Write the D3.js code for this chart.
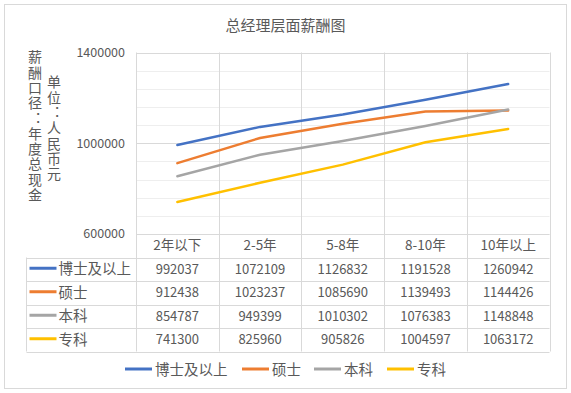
<!DOCTYPE html>
<html>
<head>
<meta charset="utf-8">
<script src="https://cdn.jsdelivr.net/npm/d3@7"></script>
<style>
  body { margin: 0; background: #fff; }
  text { font-family: "Noto Sans CJK SC", "DejaVu Sans", sans-serif; fill: #595959; }
</style>
</head>
<body>
<svg id="chart" width="571" height="393"></svg>
<script>
const title = '总经理层面薪酬图'
const categories = ['2年以下', '2-5年', '5-8年', '8-10年', '10年以上']
const seriesNames = ['博士及以上', '硕士', '本科', '专科']
const colours = ['#4472C4', '#ED7D31', '#A5A5A5', '#FFC000']
const doctor = [992037, 1072109, 1126832, 1191528, 1260942]
const master = [912438, 1023237, 1085690, 1139493, 1144426]
const bachelor = [854787, 949399, 1010302, 1076383, 1148848]
const college = [741300, 825960, 905826, 1004597, 1063172]
const yTicks = [600000, 1000000, 1400000]
const axisTitle1 = '薪酬口径：年度总现金'
const axisTitle2 = '单位：人民币元'

const series = [doctor, master, bachelor, college]

const svg = d3.select('#chart')

// outer frame
svg.append('rect')
  .attr('x', 4.5).attr('y', 4.5)
  .attr('width', 562).attr('height', 384)
  .attr('fill', '#fff').attr('stroke', '#d9d9d9')

const plotLeft = 136, plotRight = 549.5, plotTop = 52.5, plotBottom = 234
const rowH = 23.5
const tableLeft = 26.5

const x = d3.scaleBand().domain(categories).range([plotLeft, plotRight])
const cx = d => x(d) + x.bandwidth() / 2
const y = d3.scaleLinear().domain([600000, 1400000]).range([plotBottom, plotTop])

// minor gridlines
const minor = d3.range(600000, 1400001, 80000)
svg.append('g').selectAll('line')
  .data(minor)
  .enter().append('line')
    .attr('x1', plotLeft).attr('x2', plotRight)
    .attr('y1', d => Math.round(y(d)) + 0.5)
    .attr('y2', d => Math.round(y(d)) + 0.5)
    .attr('stroke', '#eeeeee')

// major gridlines
svg.append('g').selectAll('line')
  .data(yTicks)
  .enter().append('line')
    .attr('x1', plotLeft).attr('x2', plotRight)
    .attr('y1', d => Math.round(y(d)) + 0.5)
    .attr('y2', d => Math.round(y(d)) + 0.5)
    .attr('stroke', '#d9d9d9')

// y axis labels
svg.append('g').selectAll('text')
  .data(yTicks)
  .enter().append('text')
    .attr('x', plotLeft - 11)
    .attr('y', d => y(d))
    .attr('dy', '0.35em')
    .attr('text-anchor', 'end')
    .style('font-size', '12.5px')
    .text(d => d)

// vertical lines across plot and table
const tableBottom = plotBottom + rowH * (series.length + 1)
svg.append('g').selectAll('line')
  .data(categories.concat(['end']))
  .enter().append('line')
    .attr('x1', d => Math.round(d === 'end' ? plotRight : x(d)) + 0.5)
    .attr('x2', d => Math.round(d === 'end' ? plotRight : x(d)) + 0.5)
    .attr('y1', plotTop).attr('y2', tableBottom)
    .attr('stroke', '#d9d9d9')

// table horizontal lines
const rows = d3.range(1, series.length + 2)
svg.append('g').selectAll('line')
  .data(rows)
  .enter().append('line')
    .attr('x1', tableLeft)
    .attr('x2', plotRight)
    .attr('y1', d => Math.round(plotBottom + d * rowH) + 0.5)
    .attr('y2', d => Math.round(plotBottom + d * rowH) + 0.5)
    .attr('stroke', '#d9d9d9')

svg.append('line')
  .attr('x1', tableLeft).attr('x2', tableLeft)
  .attr('y1', plotBottom + rowH).attr('y2', tableBottom)
  .attr('stroke', '#d9d9d9')

// category header
svg.append('g').selectAll('text')
  .data(categories)
  .enter().append('text')
    .attr('x', cx)
    .attr('y', plotBottom + rowH / 2)
    .attr('dy', '0.35em')
    .attr('text-anchor', 'middle')
    .style('font-size', '13.5px')
    .text(d => d)

// table rows
series.forEach((vals, i) => {
  const ry = plotBottom + rowH * (i + 1.5)
  svg.append('line')
    .attr('x1', tableLeft + 3).attr('x2', tableLeft + 30)
    .attr('y1', ry - 1).attr('y2', ry - 1)
    .attr('stroke', colours[i]).attr('stroke-width', 3)
  svg.append('text')
    .attr('x', tableLeft + 32).attr('y', ry)
    .attr('dy', '0.35em')
    .style('font-size', '14.5px')
    .text(seriesNames[i])
  svg.append('g').selectAll('text')
    .data(vals)
    .enter().append('text')
      .attr('x', (d, j) => cx(categories[j]))
      .attr('y', ry)
      .attr('dy', '0.35em')
      .attr('text-anchor', 'middle')
      .style('font-size', '13px')
      .text(d => d)
})

// lines
const line = d3.line()
  .x((d, j) => cx(categories[j]))
  .y(d => y(d))

svg.append('g').selectAll('path')
  .data(series)
  .enter().append('path')
    .attr('d', line)
    .attr('fill', 'none')
    .attr('stroke', (d, i) => colours[i])
    .attr('stroke-width', 2.5)
    .attr('stroke-linecap', 'round')

// title
svg.append('text')
  .attr('x', 285.5).attr('y', 26)
  .attr('dy', '0.35em')
  .attr('text-anchor', 'middle')
  .style('font-size', '15px')
  .text(title)

// vertical axis titles (upright stacked characters)
function vertical (str, xPos, yStart) {
  svg.append('text')
    .attr('x', xPos)
    .attr('y', yStart)
    .style('writing-mode', 'vertical-rl')
    .style('text-orientation', 'upright')
    .style('font-size', '14px')
    .style('letter-spacing', '1.3px')
    .text(str)
}
vertical(axisTitle1, 35, 50)
vertical(axisTitle2, 54, 75)

// legend
const legendX = [125, 242, 314, 387]
const legendY = 370
seriesNames.forEach((name, i) => {
  svg.append('line')
    .attr('x1', legendX[i]).attr('x2', legendX[i] + 27)
    .attr('y1', legendY - 1).attr('y2', legendY - 1)
    .attr('stroke', colours[i]).attr('stroke-width', 3)
  svg.append('text')
    .attr('x', legendX[i] + 30).attr('y', legendY)
    .attr('dy', '0.35em')
    .style('font-size', '14.5px')
    .text(name)
})
</script>
</body>
</html>
